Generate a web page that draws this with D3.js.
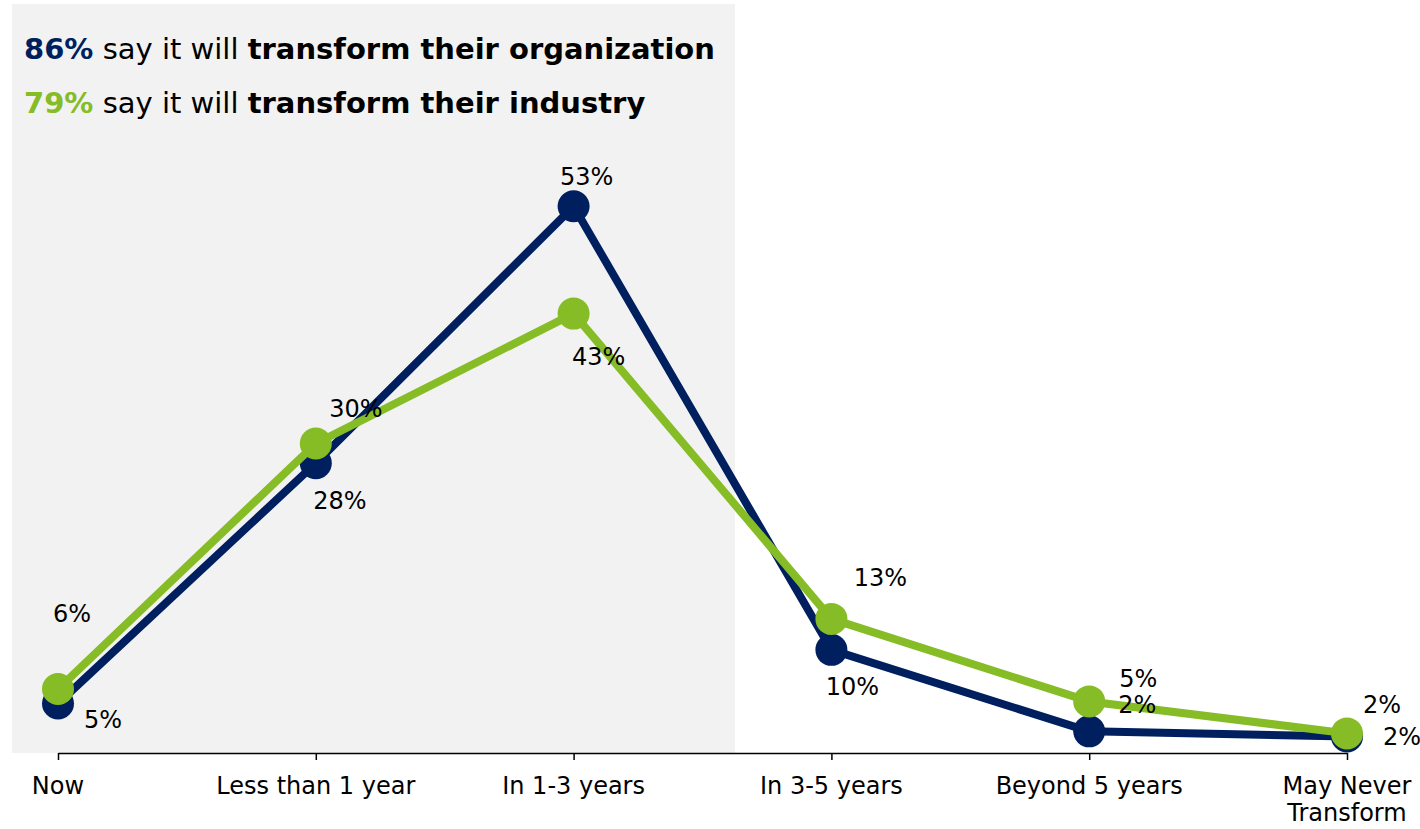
<!DOCTYPE html>
<html>
<head>
<meta charset="utf-8">
<script src="https://cdn.jsdelivr.net/npm/d3@7"></script>
<style>
  body { margin: 0; background: #fff; }
  svg { display: block; font-family: "DejaVu Sans", Verdana, sans-serif; }
</style>
</head>
<body>
<div id="canvas"></div>
<script>
// Categories along the x axis (multi-line labels split with "\n").
const categories = ["Now", "Less than 1 year", "In 1-3 years", "In 3-5 years", "Beyond 5 years", "May Never\nTransform"];
// Share of respondents expecting transformation of their organization.
const orgValues = [4.8, 28.1, 53, 10, 2.1, 1.6];
// Share of respondents expecting transformation of their industry.
const industryValues = [6.2, 30, 42.6, 13, 5, 1.9];

// Headline numbers.
const orgTotal = "86%";
const industryTotal = "79%";

// Label offsets (dx, dy from the point) so labels don't collide.
const orgLabelOffsets = [[45, 25], [24, 46], [13, -21], [21, 45], [48, -18], [55, 9]];
const industryLabelOffsets = [[14, -67], [40, -27], [25, 51], [49, -33], [49, -14], [35, -20]];

const w = 1420, h = 829;
const navy = "#001f5f", green = "#86bc25";

const svg = d3.select("#canvas")
            .append("svg")
            .attr("width", w)
            .attr("height", h);

const xScale = d3.scalePoint()
                .domain(categories)
                .range([58, 1347]);

const yScale = d3.scaleLinear()
                .domain([0, 73])
                .range([753, 0]);

// Shaded "near term" panel behind the first three categories.
svg.append("rect")
    .attr("x", 12)
    .attr("y", 4)
    .attr("width", 723)
    .attr("height", 749)
    .attr("fill", "#f2f2f2");

// Headline text.
const heads = [[orgTotal, navy, "transform their organization", 59], [industryTotal, green, "transform their industry", 113]];
heads.forEach(([pct, col, tail, y]) => {
    const t = svg.append("text")
        .attr("x", 24)
        .attr("y", y)
        .attr("font-size", 29);
    t.append("tspan").text(pct).attr("fill", col).attr("font-weight", "bold");
    t.append("tspan").text(" say it will ").attr("fill", "#000");
    t.append("tspan").text(tail).attr("fill", "#000").attr("font-weight", "bold");
});

// X axis.
const axis = svg.append("g")
    .attr("transform", `translate(0,${yScale(0)})`)
    .call(d3.axisBottom(xScale).tickSize(7).tickSizeOuter(0).tickFormat(""));
axis.select(".domain").attr("stroke", "#000").attr("stroke-width", 1.5);
axis.selectAll(".tick line").attr("stroke", "#000").attr("stroke-width", 1.5);

// Category labels; each line is its own text so wrapped labels stack cleanly.
categories.forEach(c => {
    c.split("\n").forEach((l, i) => {
        svg.append("text")
            .attr("x", xScale(c))
            .attr("y", 794 + i * 27)
            .attr("text-anchor", "middle")
            .attr("font-size", 24)
            .attr("fill", "#000")
            .text(l);
    });
});

const line = d3.line()
    .x((d, i) => xScale(categories[i]))
    .y(d => yScale(d));

const series = [
    { values: orgValues, color: navy, offsets: orgLabelOffsets },
    { values: industryValues, color: green, offsets: industryLabelOffsets }
];

series.forEach(s => {
    svg.append("path")
        .datum(s.values)
        .attr("d", line)
        .attr("fill", "none")
        .attr("stroke", s.color)
        .attr("stroke-width", 8)
        .attr("stroke-linejoin", "round");

    svg.selectAll(null)
        .data(s.values)
        .enter()
        .append("circle")
        .attr("cx", (d, i) => xScale(categories[i]))
        .attr("cy", d => yScale(d))
        .attr("r", 16)
        .attr("fill", s.color);
});

// Value labels on top of everything.
series.forEach(s => {
    svg.selectAll(null)
        .data(s.values)
        .enter()
        .append("text")
        .text(d => Math.round(d) + "%")
        .attr("x", (d, i) => xScale(categories[i]) + s.offsets[i][0])
        .attr("y", (d, i) => yScale(d) + s.offsets[i][1])
        .attr("text-anchor", "middle")
        .attr("font-size", 24)
        .attr("fill", "#000");
});
</script>
</body>
</html>
